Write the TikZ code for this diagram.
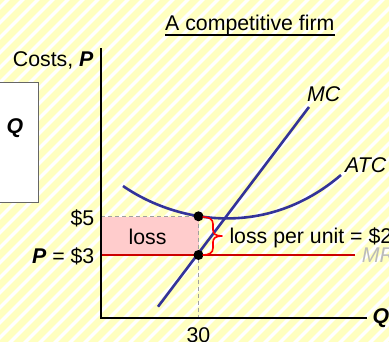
\documentclass[tikz,border=0pt]{standalone}
\usepackage{fontspec}
\setmainfont{Liberation Sans}
\definecolor{stripeY}{RGB}{255,255,192}
\definecolor{curveBlue}{RGB}{51,51,153}
\definecolor{priceRed}{RGB}{204,0,0}
\definecolor{lossPink}{RGB}{255,204,204}
\definecolor{mrGray}{RGB}{187,187,187}
\definecolor{dashGray}{RGB}{160,160,160}
\tikzset{
  stripe/.style={stripeY, line width=7pt},
  txt/.style={inner sep=0pt, font=\fontsize{21.3}{25}\selectfont},
  curve/.style={curveBlue, line width=2.6pt},
  axis/.style={black, line width=1.3pt},
  guide/.style={dashGray, line width=0.8pt, dash pattern=on 4pt off 3pt},
  dot/.style={circle, fill=black, inner sep=0pt, minimum size=10pt},
  bracestyle/.style={red, line width=1.6pt, line join=round, line cap=round},
}
\begin{document}
\begin{tikzpicture}[x=1pt, y=-1pt]
\useasboundingbox (0,0) rectangle (389,341);
\begin{scope}
\clip (0,0) rectangle (389,341);
\fill[white] (0,0) rectangle (389,341);
\foreach \i in {-24,...,27} \draw[stripe] (\i*15,345) -- ++(350,-350);
\end{scope}
% left box
\draw[fill=white, draw=gray!80!black, line width=0.9pt] (-2,82) rectangle (38.5,202);
\node[txt] (qbox) at (15,128) {\textbf{\textit{Q}}};
% loss rectangle
\fill[lossPink] (101,216.5) rectangle (198.5,255);
\draw[guide] (101,216.5) -- (198.5,216.5);
\draw[guide] (198.5,216.5) -- (198.5,318);
% coordinates
\coordinate (o) at (101,318);
\coordinate (ytop) at (101,48);
\coordinate (xend) at (367,318);
\coordinate (pL) at (101,255);
\coordinate (pR) at (355,255);
\coordinate (mcA) at (158,306.7);
\coordinate (mcB) at (309,107);
% price line
\draw[priceRed, line width=2pt] (pL) -- (pR);
% ATC curve
\draw[curve] (123,186) .. controls (175,222) and (265,240) .. (341,175);
% MC line
\draw[curve] (mcA) -- (mcB);
% axes
\draw[axis] (ytop) -- (o) -- (xend);
% dots
\node[dot] (d1) at (198.5,216.3) {};
\node[dot] (d2) at (198.5,255) {};
% brace
\draw[bracestyle] (203,217) .. controls (209,217) and (213,219) .. (213,224) -- (213,230)
  .. controls (213,234) and (216,236) .. (222,236)
  .. controls (216,236) and (213,238) .. (213,242) -- (213,248)
  .. controls (213,253) and (209,255) .. (203,255);
% texts
\node[txt, anchor=base west] (title) at (165,30) {A competitive firm};
\draw[black, line width=1.6pt] ([yshift=-4.8pt]title.base west) -- ([yshift=-4.8pt]title.base east);
\node[txt, anchor=base west] (ylab) at (12.7,66) {Costs, \textbf{\textit{P}}};
\node[txt, anchor=base east] (p5) at (94.5,225) {\$5};
\node[txt, anchor=base east] (p3) at (94.5,263) {\textbf{\textit{P}} = \$3};
\node[txt, anchor=base] (loss) at (147.5,244) {loss};
\node[txt, anchor=base west] (lpu) at (229.3,243) {loss per unit = \$2};
\node[txt, anchor=base west] (mc) at (307,101) {\textit{MC}};
\node[txt, anchor=base west] (atc) at (345,172) {\textit{ATC}};
\node[txt, anchor=base west, text=mrGray] (mr) at (361.7,262) {\textit{MR}};
\node[txt] (qax) at (381,318) {\textbf{\textit{Q}}};
\node[txt, anchor=base] (q30) at (198.5,342) {30};
\end{tikzpicture}
\end{document}
